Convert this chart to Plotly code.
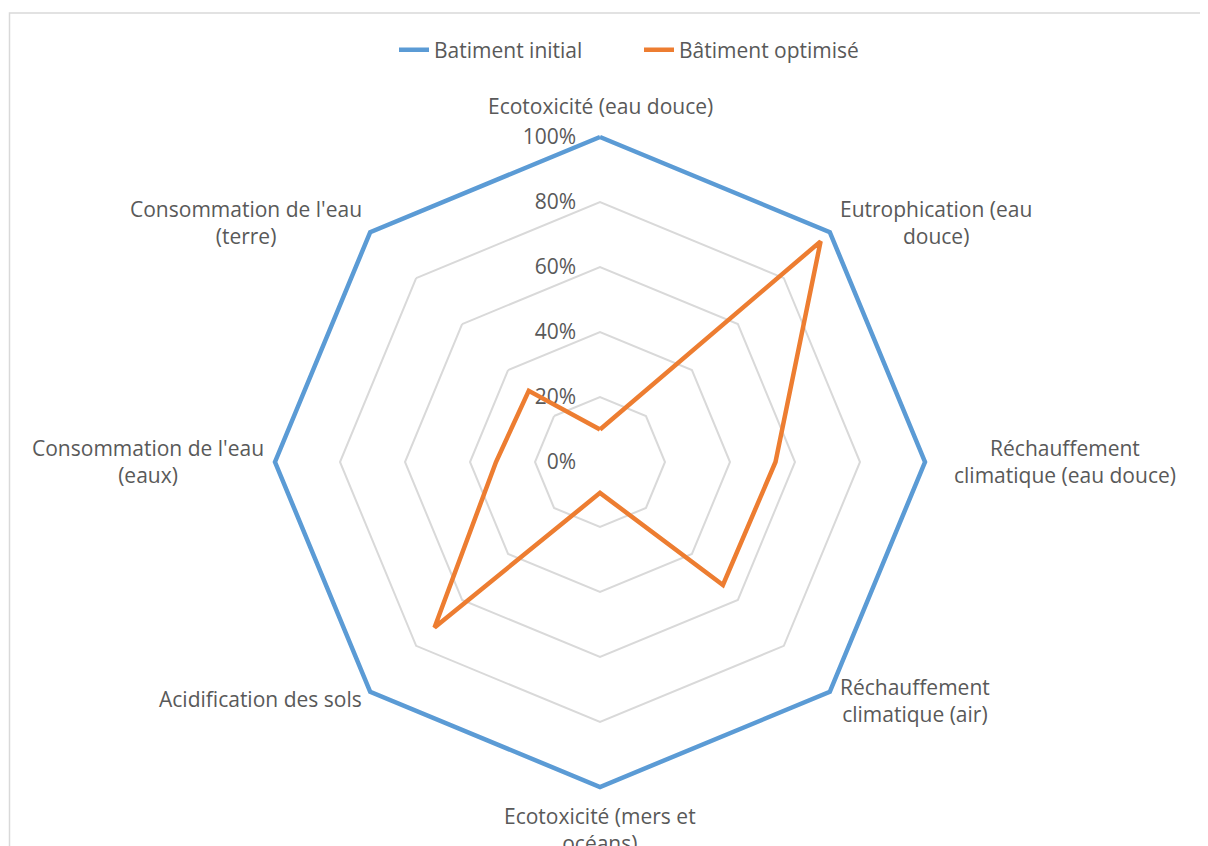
import plotly.graph_objects as go

# catégories (sens horaire depuis le haut)
categories = [
    "Ecotoxicité (eau douce)",
    "Eutrophication (eau douce)",
    "Réchauffement climatique (eau douce)",
    "Réchauffement climatique (air)",
    "Ecotoxicité (mers et océans)",
    "Acidification des sols",
    "Consommation de l'eau (eaux)",
    "Consommation de l'eau (terre)",
]
# libellés affichés (retours à la ligne comme dans Excel)
labels = [
    "Ecotoxicité (eau douce)",
    "Eutrophication (eau<br>douce)",
    "Réchauffement<br>climatique (eau douce)",
    "Réchauffement<br>climatique (air)",
    "Ecotoxicité (mers et<br>océans)",
    "Acidification des sols",
    "Consommation de l'eau<br>(eaux)",
    "Consommation de l'eau<br>(terre)",
]
batiment_initial = [1.0, 1.0, 1.0, 1.0, 1.0, 1.0, 1.0, 1.0]
batiment_optimise = [0.10, 0.96, 0.54, 0.535, 0.095, 0.72, 0.32, 0.31]
radial_ticks = [0, 0.2, 0.4, 0.6, 0.8, 1.0]

W, H = 1208, 846
off = 8  # marge du <body> de la page
rmax = 1.015  # un peu de marge pour ne pas couper le trait bleu
cx, cy, R = 600 - off, 462 - off, 325 * rmax
FS = 21

# position des libellés (pixels écran)
label_pos = [(600, 106), (936, 223), (1065, 461), (915, 700),
             (600, 829), (260, 699), (148, 461), (246, 223)]

fig = go.Figure()
fig.add_trace(go.Scatterpolar(
    r=batiment_initial + batiment_initial[:1],
    theta=categories + categories[:1],
    mode="lines", name="Batiment initial", cliponaxis=False,
    line=dict(color="#5B9BD5", width=4.5),
))
fig.add_trace(go.Scatterpolar(
    r=batiment_optimise + batiment_optimise[:1],
    theta=categories + categories[:1],
    mode="lines", name="Bâtiment optimisé", cliponaxis=False,
    line=dict(color="#ED7D31", width=4.5),
))

annotations = []
for lab, (px_, py_) in zip(labels, label_pos):
    annotations.append(dict(
        text=lab, xref="paper", yref="paper",
        x=(px_ - off) / W, y=1 - (py_ - off) / H,
        xanchor="center", yanchor="middle", showarrow=False, align="center",
        font=dict(size=FS, color="#595959"),
    ))

fig.update_layout(
    width=W, height=H,
    margin=dict(l=0, r=0, t=0, b=0),
    paper_bgcolor="white",
    font=dict(family="Open Sans", size=FS, color="#595959"),
    showlegend=True,
    legend=dict(orientation="h", x=(639 - off) / W, xanchor="center",
                y=1 - (50 - off) / H, yanchor="middle", entrywidth=200,
                font=dict(size=FS, color="#595959")),
    polar=dict(
        bgcolor="white",
        gridshape="linear",
        domain=dict(x=[(cx - R) / W, (cx + R) / W],
                    y=[(H - cy - R) / H, (H - cy + R) / H]),
        radialaxis=dict(range=[0, rmax], tickvals=radial_ticks, tickformat=".0%",
                        showline=False, ticks="outside", ticklen=16,
                        tickcolor="rgba(0,0,0,0)", angle=90, tickangle=90,
                        side="counterclockwise", layer="below traces",
                        gridcolor="#D9D9D9", gridwidth=1.5,
                        tickfont=dict(size=FS, color="#595959")),
        angularaxis=dict(rotation=90, direction="clockwise", layer="below traces",
                         showgrid=False, showline=False, ticks="",
                         showticklabels=False),
    ),
    annotations=annotations,
    shapes=[dict(type="rect", xref="paper", yref="paper",
                 x0=1.5 / W, x1=1.05, y0=-0.05, y1=1 - 5 / H,
                 line=dict(color="#D9D9D9", width=1.5), fillcolor="rgba(0,0,0,0)",
                 layer="below")],
)

fig.write_html("out.html")
